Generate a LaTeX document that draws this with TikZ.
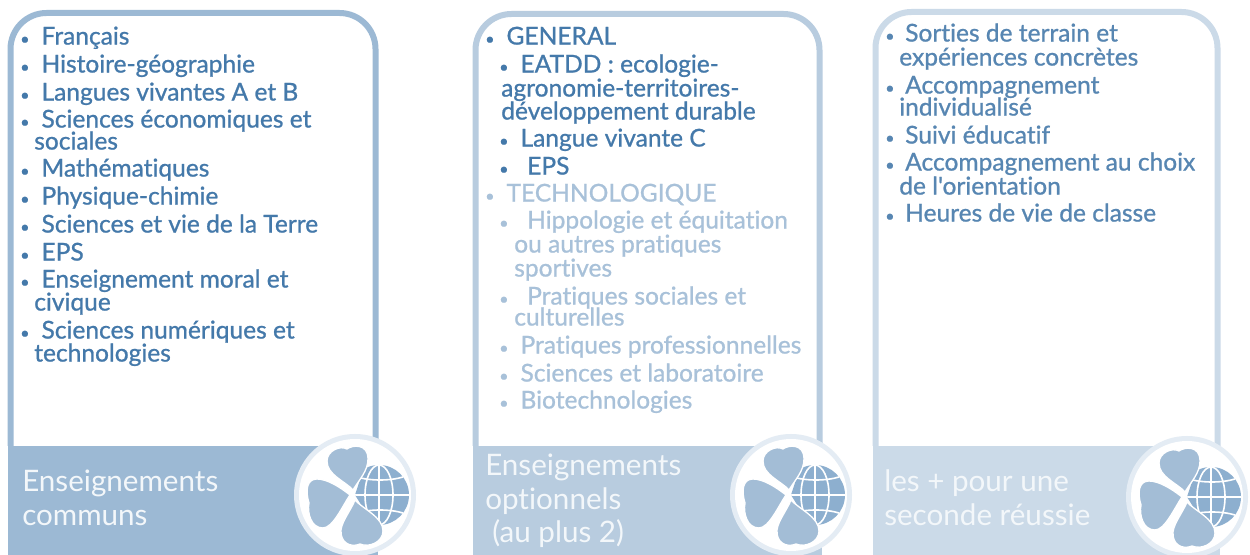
\documentclass[tikz,border=0pt]{standalone}
\usepackage{fontspec}
\setmainfont[Ligatures=NoCommon]{Lato}
\newfontfamily\bodyfont[FakeBold=0.9,Ligatures=NoCommon]{Lato}
\definecolor{bandA}{HTML}{9CB9D4}
\definecolor{bandB}{HTML}{B8CCDF}
\definecolor{bandC}{HTML}{CBDAE8}
\definecolor{txtA}{HTML}{4479AA}
\definecolor{txtB}{HTML}{A8C1D9}
\definecolor{leaf}{HTML}{A3BDD6}
\definecolor{globe}{HTML}{8DAFCF}
\definecolor{halo}{HTML}{E4ECF4}
\tikzset{
  tl/.style={anchor=base west,inner sep=0pt,xshift=-0.75pt,yshift=-0.4pt,font=\fontsize{18.4pt}{20pt}\selectfont\bodyfont,text=txtA},
  tlb/.style={tl,text=txtB},
  tlc/.style={tl,text=txtA!90!white},
  bandtxt/.style={anchor=base west,inner sep=0pt,font=\fontsize{22.2pt}{24pt}\selectfont,text=white!88!bandA},
}
\newcommand{\blt}[1]{{\fontsize{12pt}{12pt}\selectfont •}\hspace{#1pt}}
\newcommand{\tline}[5]{\node[#1] (#2) at (#3,#4) {#5};}
\newcommand{\cardbox}[4]{% x0 x1 ytop color
  \fill[#4] (#1,446) rectangle (#2,555);
  \draw[#4,line width=4.5pt,rounded corners=27pt] (#1+2.5,446) -- (#1+2.5,#3+3) -- (#2-2.5,#3+3) -- (#2-2.5,446);
}
\newcommand{\clover}[3]{% cx cy name
  \begin{scope}[shift={(#1,#2)}]
    \fill[halo] (0,0) circle (61);
    \fill[white] (0,0) circle (56);
    \begin{scope}
      \clip (0,0) -- (13,-40) -- (60,-40) -- (60,40) -- (25,40) -- cycle;
      \fill[globe] (24,0) circle (30);
      \draw[white,line width=1.2pt] (24,0) ellipse (14 and 30);
      \draw[white,line width=1.2pt] (24,-30) -- (24,30);
      \draw[white,line width=1.2pt] (-5,0) -- (54,0);
      \draw[white,line width=1.2pt] (2,-18) .. controls (15,-14) and (35,-14) .. (48,-18);
      \draw[white,line width=1.2pt] (2,18) .. controls (15,14) and (35,14) .. (48,18);
    \end{scope}
    \fill[leaf,draw=white,line width=1pt] (-2,-5) .. controls (-10,-14) and (-28,-20) .. (-28,-34) .. controls (-28,-44) and (-15,-50) .. (-8,-46) .. controls (-3,-50) and (13,-52) .. (13,-36) .. controls (13,-24) and (4,-15) .. (-2,-5) -- cycle;
    \fill[leaf,draw=white,line width=1pt] (-5,0) .. controls (-15,-8) and (-28,-16) .. (-38,-16) .. controls (-48,-16) and (-50,-5) .. (-46,8) .. controls (-48,18) and (-44,33) .. (-32,33) .. controls (-22,33) and (-12,10) .. (-5,0) -- cycle;
    \fill[leaf,draw=white,line width=1pt] (0,5) .. controls (8,14) and (28,22) .. (28,36) .. controls (28,47) and (14,53) .. (5,49) .. controls (-4,53) and (-15,48) .. (-14,35) .. controls (-13,26) and (-4,15) .. (0,5) -- cycle;
    \coordinate (#3) at (0,0);
  \end{scope}
}
\begin{document}
\begin{tikzpicture}[x=0.75pt,y=-0.75pt]
\useasboundingbox (0,0) rectangle (1250,555);
\fill[white] (0,0) rectangle (1250,555);
\cardbox{8}{378}{10}{bandA}
\cardbox{473}{822}{11}{bandB}
\cardbox{873}{1220}{9}{bandC}
\clover{355}{495}{cloverA}
\clover{791}{495}{cloverB}
\clover{1187}{497}{cloverC}
% column 1
\tline{tl}{a1}{21}{44}{\blt{9}Français}
\tline{tl}{a2}{21}{72}{\blt{9}Histoire-géographie}
\tline{tl}{a3}{21}{100}{\blt{9}Langues vivantes A et B}
\tline{tl}{a4}{21}{127}{\blt{9}Sciences économiques et}
\tline{tl}{a4b}{35}{149}{sociales}
\tline{tl}{a5}{21}{176}{\blt{9}Mathématiques}
\tline{tl}{a6}{21}{204}{\blt{9}Physique-chimie}
\tline{tl}{a7}{21}{232}{\blt{9}Sciences et vie de la Terre}
\tline{tl}{a8}{21}{260}{\blt{9}EPS}
\tline{tl}{a9}{21}{287}{\blt{9}Enseignement moral et}
\tline{tl}{a9b}{35}{310}{civique}
\tline{tl}{a10}{21}{338}{\blt{9}Sciences numériques et}
\tline{tl}{a10b}{35}{361}{technologies}
% column 2
\tline{tl}{b1}{486}{44}{\blt{9}GENERAL}
\tline{tl}{b2}{500}{72}{\blt{9}EATDD : ecologie-}
\tline{tl}{b2b}{502}{96}{agronomie-territoires-}
\tline{tl}{b2c}{502}{119}{développement durable}
\tline{tl}{b3}{500}{146}{\blt{9}Langue vivante C}
\tline{tl}{b4}{500}{174}{\blt{14}EPS}
\tline{tlb}{b5}{486}{201}{\blt{9}TECHNOLOGIQUE}
\tline{tlb}{b6}{500}{228}{\blt{14}Hippologie et équitation}
\tline{tlb}{b6b}{515}{252}{ou autres pratiques}
\tline{tlb}{b6c}{515}{276}{sportives}
\tline{tlb}{b7}{500}{304}{\blt{14}Pratiques sociales et}
\tline{tlb}{b7b}{515}{325}{culturelles}
\tline{tlb}{b8}{500}{353}{\blt{9}Pratiques professionnelles}
\tline{tlb}{b9}{500}{381}{\blt{9}Sciences et laboratoire}
\tline{tlb}{b10}{500}{408}{\blt{9}Biotechnologies}
% column 3
\tline{tlc}{c1}{886}{41}{\blt{8}Sorties de terrain et}
\tline{tlc}{c1b}{900}{65}{expériences concrètes}
\tline{tlc}{c2}{886}{93}{\blt{8}Accompagnement}
\tline{tlc}{c2b}{900}{115}{individualisé}
\tline{tlc}{c3}{886}{143}{\blt{8}Suivi éducatif}
\tline{tlc}{c4}{886}{170}{\blt{8}Accompagnement au choix}
\tline{tlc}{c4b}{900}{194}{de l'orientation}
\tline{tlc}{c5}{886}{221}{\blt{8}Heures de vie de classe}
% bands
\tline{bandtxt}{ba1}{22}{492}{Enseignements}
\tline{bandtxt}{ba2}{22}{526}{communs}
\tline{bandtxt}{bb1}{485}{476}{Enseignements}
\tline{bandtxt}{bb2}{485}{510}{optionnels}
\tline{bandtxt}{bb3}{492}{543}{(au plus 2)}
\tline{bandtxt}{bc1}{884}{492}{les + pour une}
\tline{bandtxt}{bc2}{884}{526}{seconde réussie}
\end{tikzpicture}
\end{document}
